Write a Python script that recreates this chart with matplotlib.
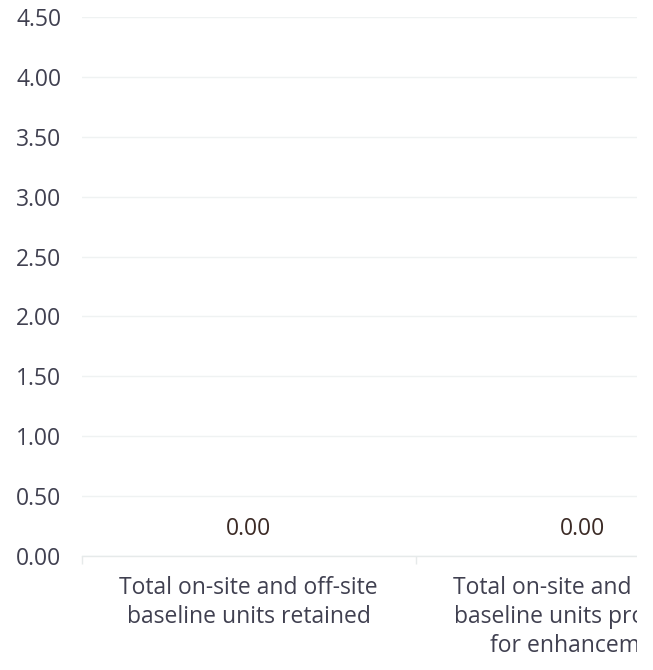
import matplotlib
matplotlib.use("Agg")
import matplotlib.pyplot as plt
from matplotlib.patches import Rectangle
from matplotlib.ticker import FixedLocator

categories = [
    "Total on-site and off-site\nbaseline units retained",
    "Total on-site and off-site\nbaseline units proposed\nfor enhancement",
]
values = [0.00, 0.00]
yticks = [0.0, 0.5, 1.0, 1.5, 2.0, 2.5, 3.0, 3.5, 4.0, 4.5]

plt.rcParams['font.family'] = ['Open Sans', 'DejaVu Sans']

W, H = 653, 670
fig = plt.figure(figsize=(W / 100, H / 100), dpi=100)
left, right = 82, 749
bottom, top = 555.7, 17.3
ax = fig.add_axes([left / W, (H - bottom) / H, (right - left) / W, (bottom - top) / H])

x = list(range(len(categories)))
ax.bar(x, values, width=0.6, color='#4472c4')
for xi, v in zip(x, values):
    ax.annotate(f"{v:.2f}", xy=(xi, v), xytext=(0, 19), textcoords='offset points',
                ha='center', va='center', fontsize=16.5, color='#3b2a25')

ax.set_xlim(-0.5, len(categories) - 0.5)
ax.set_ylim(0, 4.5)
ax.set_yticks(yticks)
ax.set_yticklabels([f"{t:.2f}" for t in yticks])
ax.set_xticks(x)
ax.set_xticklabels(categories, linespacing=1.27)
ax.xaxis.set_minor_locator(FixedLocator([i - 0.5 for i in range(len(categories) + 1)]))

ax.tick_params(axis='y', length=0, pad=15, labelsize=16.5, labelcolor='#404050')
ax.tick_params(axis='x', which='major', length=0, pad=14.5, labelsize=16.5, labelcolor='#404050')
ax.tick_params(axis='x', which='minor', length=6, width=1, color='#e6eaea')

ax.grid(axis='y', color='#eff2f2', linewidth=1)
ax.set_axisbelow(True)
for s in ['top', 'right', 'left']:
    ax.spines[s].set_visible(False)
ax.spines['bottom'].set_color('#e6eaea')
ax.spines['bottom'].set_linewidth(1)

fig.add_artist(Rectangle((637 / W, 0), 1 - 637 / W, 1, transform=fig.transFigure,
                         facecolor='white', edgecolor='none', zorder=10))

fig.savefig("out.png", dpi=100)
